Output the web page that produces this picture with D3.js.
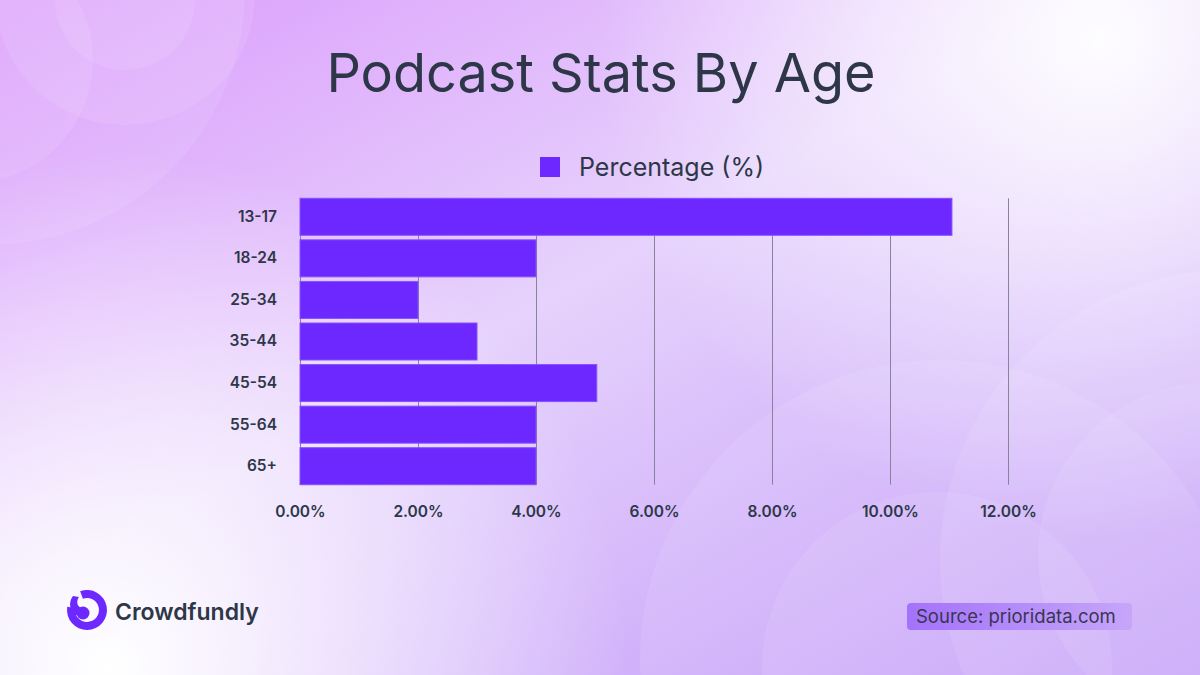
<!DOCTYPE html>
<html>
<head>
<meta charset="utf-8">
<script src="https://cdn.jsdelivr.net/npm/d3@7"></script>
<style>
  html, body { margin: 0; padding: 0; }
  body { width: 1200px; height: 675px; overflow: hidden; }
  text { font-family: "Inter", "Noto Sans", sans-serif; }
</style>
</head>
<body>
<script>
// data
var ageGroups = ["13-17", "18-24", "25-34", "35-44", "45-54", "55-64", "65+"];
var percentValues = [11.05, 4, 2, 3, 5.03, 4, 4];
var xTicks = [0, 2, 4, 6, 8, 10, 12];
var seriesName = "Percentage (%)";

var width = 1200, height = 675;
var ink = "#2d3748", barColor = "#6c28ff";

var svg = d3.select("body").append("svg")
  .attr("width", width)
  .attr("height", height);

var defs = svg.append("defs");

// background gradients
var bg = defs.append("linearGradient").attr("id", "bg")
  .attr("x1", "0").attr("y1", "0").attr("x2", "1").attr("y2", "1");
bg.append("stop").attr("offset", "0").attr("stop-color", "#db9bfc");
bg.append("stop").attr("offset", "0.45").attr("stop-color", "#e6d2fc");
bg.append("stop").attr("offset", "1").attr("stop-color", "#c098f9");

function glow(id, cx, cy, r, color, op) {
  var g = defs.append("radialGradient").attr("id", id)
    .attr("gradientUnits", "userSpaceOnUse")
    .attr("cx", cx).attr("cy", cy).attr("r", r);
  g.append("stop").attr("offset", "0").attr("stop-color", color).attr("stop-opacity", op);
  g.append("stop").attr("offset", "1").attr("stop-color", color).attr("stop-opacity", 0);
}
glow("glowTR", 1100, 40, 500, "#ffffff", 0.95);
glow("glowBL", 110, 670, 520, "#ffffff", 1);

svg.append("rect").attr("width", width).attr("height", height).attr("fill", "url(#bg)");
svg.append("rect").attr("width", width).attr("height", height).attr("fill", "url(#glowTR)");
svg.append("rect").attr("width", width).attr("height", height).attr("fill", "url(#glowBL)");

// faint decorative circles
var rings = [
  [-10, -10, 255], [125, -5, 130], [125, 0, 70], [-30, 60, 123],
  [940, 660, 300], [937, 667, 175], [1230, 560, 290], [1210, 555, 172]
];
svg.append("g").selectAll("circle").data(rings).join("circle")
  .attr("cx", function(d) { return d[0]; })
  .attr("cy", function(d) { return d[1]; })
  .attr("r", function(d) { return d[2]; })
  .attr("fill", "#ffffff")
  .attr("fill-opacity", 0.09);

// title
svg.append("text")
  .attr("x", 601).attr("y", 92)
  .attr("text-anchor", "middle")
  .attr("font-size", 54)
  .attr("font-weight", 400)
  .attr("fill", ink)
  .text("Podcast Stats By Age");

// legend
svg.append("rect")
  .attr("x", 540).attr("y", 157).attr("width", 20).attr("height", 20)
  .attr("fill", barColor);
svg.append("text")
  .attr("x", 579).attr("y", 176)
  .attr("font-size", 25)
  .attr("fill", ink)
  .text(seriesName);

// scales
var x = d3.scaleLinear().domain([0, 12]).range([300, 1008]);
var y = d3.scaleBand().domain(ageGroups).range([196, 487])
  .paddingInner(0.11).paddingOuter(0.055);

var gridTop = y(ageGroups[0]);
var gridBottom = y(ageGroups[ageGroups.length - 1]) + y.bandwidth();

// vertical grid lines
svg.append("g").selectAll("line").data(xTicks).join("line")
  .attr("x1", function(d) { return x(d) + 0.5; })
  .attr("x2", function(d) { return x(d) + 0.5; })
  .attr("y1", gridTop)
  .attr("y2", gridBottom)
  .attr("stroke", "#87839a")
  .attr("stroke-width", 1);

// bars
svg.append("g").selectAll("rect").data(percentValues).join("rect")
  .attr("x", x(0))
  .attr("y", function(d, i) { return y(ageGroups[i]); })
  .attr("width", function(d) { return x(d) - x(0); })
  .attr("height", y.bandwidth())
  .attr("fill", barColor)
  .attr("stroke", "#8650ff")
  .attr("stroke-width", 1);

// y axis labels
var yAxis = svg.append("g")
  .attr("transform", "translate(" + (x(0) - 23) + ",0)")
  .call(d3.axisLeft(y).tickSize(0).tickPadding(0));
yAxis.select(".domain").remove();
yAxis.selectAll("text")
  .attr("font-size", 15.5).attr("font-weight", 600)
  .attr("fill", ink)
  .style("font-family", "Inter, sans-serif");

// x axis labels
var xAxis = svg.append("g")
  .attr("transform", "translate(0," + (gridBottom + 21) + ")")
  .call(d3.axisBottom(x).tickValues(xTicks).tickSize(0).tickPadding(0)
    .tickFormat(function(d) { return d.toFixed(2) + "%"; }));
xAxis.select(".domain").remove();
xAxis.selectAll("text")
  .attr("font-size", 15.5).attr("font-weight", 600)
  .attr("fill", ink)
  .style("font-family", "Inter, sans-serif");

// logo
var logo = svg.append("g").attr("transform", "translate(87,610)");
var swirl = d3.arc().innerRadius(12).outerRadius(20)
  .startAngle(-0.35).endAngle(Math.PI * 1.55);
logo.append("path").attr("d", swirl()).attr("fill", barColor);
logo.append("path")
  .attr("d", "M-14,-14 C-20,-6 -16,4 -8,6 L-6,-2 C-10,-4 -11,-9 -8,-13 Z")
  .attr("fill", barColor);
logo.append("circle").attr("cx", -4).attr("cy", 3).attr("r", 6.5).attr("fill", barColor);

svg.append("text")
  .attr("x", 115).attr("y", 620)
  .attr("font-size", 23).attr("font-weight", 600)
  .attr("fill", ink)
  .text("Crowdfundly");

// source tag
var tag = defs.append("linearGradient").attr("id", "tag")
  .attr("x1", "0").attr("x2", "1");
tag.append("stop").attr("offset", "0").attr("stop-color", "#a372fb");
tag.append("stop").attr("offset", "1").attr("stop-color", "#c6a6f9");
svg.append("rect")
  .attr("x", 907).attr("y", 603).attr("width", 225).attr("height", 27)
  .attr("rx", 4)
  .attr("fill", "url(#tag)");
svg.append("text")
  .attr("x", 916).attr("y", 623)
  .attr("font-size", 18.5)
  .attr("fill", "#3b3552")
  .text("Source: prioridata.com");
</script>
</body>
</html>
